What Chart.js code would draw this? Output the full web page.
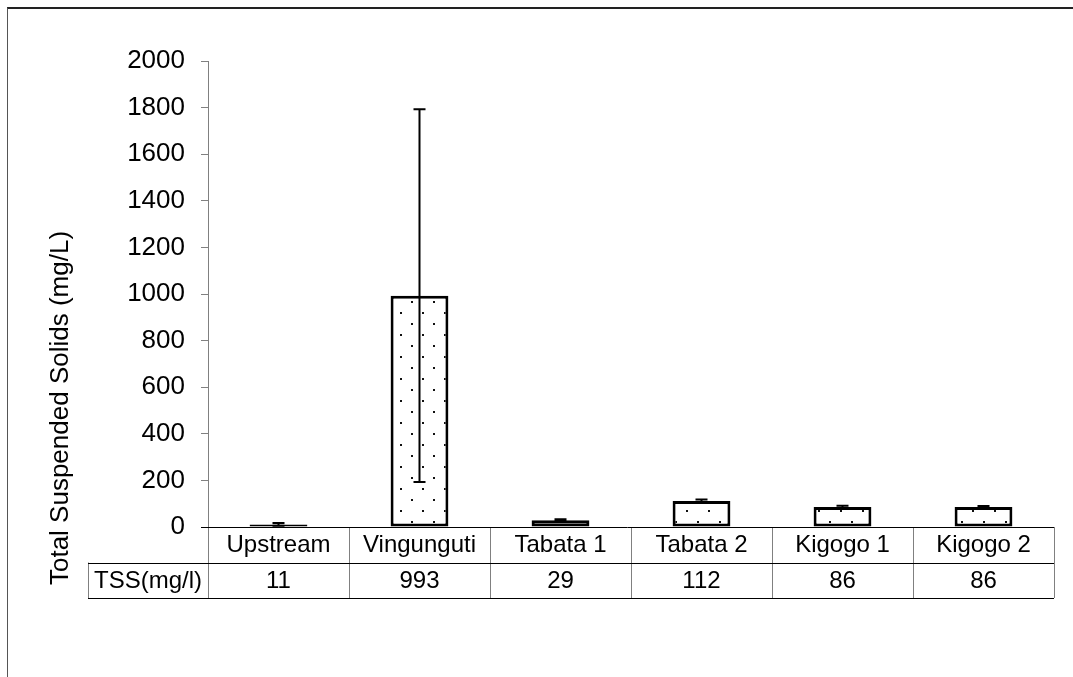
<!DOCTYPE html>
<html>
<head>
<meta charset="utf-8">
<script src="https://cdn.jsdelivr.net/npm/chart.js@4.4.1/dist/chart.umd.min.js"></script>
<style>
    html, body { margin: 0; padding: 0; background: #fff; }
    #wrap { position: relative; width: 1073px; height: 677px; overflow: hidden; }
    #frame { position: absolute; left: 7px; top: 7px; width: 1100px; height: 700px;
             border-top: 2px solid #222; border-left: 1px solid #555; }
    canvas { position: absolute; left: 0; top: 0; }
</style>
</head>
<body>
<div id="wrap">
    <div id="frame"></div>
    <canvas id="chart" width="1073" height="677"></canvas>
</div>
<script>
const sites = ['Upstream', 'Vingunguti', 'Tabata 1', 'Tabata 2', 'Kigogo 1', 'Kigogo 2'];
const tssValues = [11, 993, 29, 112, 86, 86];
const tssErrors = [6, 800, 4, 6, 5, 4];
const rowLabel = 'TSS(mg/l)';
const axisTitle = 'Total Suspended Solids (mg/L)';
const yMin = 0;
const yMax = 2000;
const yStep = 200;

const FONT = 'Arial, "Liberation Sans", sans-serif';

function dotPattern() {
    const tile = document.createElement('canvas');
    tile.width = 22;
    tile.height = 22;
    const c = tile.getContext('2d');
    c.fillStyle = '#fff';
    c.fillRect(0, 0, 22, 22);
    c.fillStyle = '#111';
    c.fillRect(4, 4, 2, 2);
    c.fillRect(15, 15, 2, 2);
    return document.getElementById('chart').getContext('2d').createPattern(tile, 'repeat');
}

// error bars drawn from the y scale
const errorBars = {
    id: 'errorBars',
    afterDatasetsDraw(chart) {
        const { ctx, scales: { y } } = chart;
        const bars = chart.getDatasetMeta(0).data;
        ctx.save();
        ctx.strokeStyle = '#000';
        ctx.lineWidth = 2;
        bars.forEach((bar, i) => {
            const top = y.getPixelForValue(tssValues[i] + tssErrors[i]);
            const bottom = y.getPixelForValue(tssValues[i] - tssErrors[i]);
            ctx.beginPath();
            ctx.moveTo(bar.x, top);
            ctx.lineTo(bar.x, bottom);
            ctx.moveTo(bar.x - 6, top);
            ctx.lineTo(bar.x + 6, top);
            ctx.moveTo(bar.x - 6, bottom);
            ctx.lineTo(bar.x + 6, bottom);
            ctx.stroke();
        });
        ctx.restore();
    }
};

// data table under the plot, laid out on the x scale
const dataTable = {
    id: 'dataTable',
    afterDraw(chart) {
        const { ctx, chartArea, scales: { x, y } } = chart;
        const y0 = y.getPixelForValue(0);
        const rowH = 35.5;
        const y1 = y0 + rowH;
        const y2 = y1 + rowH;
        const labelLeft = 88;
        const step = x.getPixelForValue(1) - x.getPixelForValue(0);
        const left = x.getPixelForValue(0) - step / 2;

        ctx.save();
        ctx.lineWidth = 1;
        ctx.strokeStyle = '#808080';
        ctx.beginPath();
        for (let i = 0; i <= sites.length; i++) {
            const px = Math.round(left + i * step) + 0.5;
            ctx.moveTo(px, y0);
            ctx.lineTo(px, y2);
        }
        ctx.moveTo(labelLeft + 0.5, y1);
        ctx.lineTo(labelLeft + 0.5, y2);
        ctx.stroke();

        ctx.strokeStyle = '#000';
        ctx.beginPath();
        ctx.moveTo(left - 7, Math.round(y0) + 0.5);
        ctx.lineTo(chartArea.right, Math.round(y0) + 0.5);
        ctx.moveTo(labelLeft, Math.round(y1) + 0.5);
        ctx.lineTo(chartArea.right, Math.round(y1) + 0.5);
        ctx.moveTo(labelLeft, Math.round(y2) + 0.5);
        ctx.lineTo(chartArea.right, Math.round(y2) + 0.5);
        ctx.stroke();

        ctx.fillStyle = '#000';
        ctx.font = '24px ' + FONT;
        ctx.textAlign = 'center';
        ctx.textBaseline = 'middle';
        sites.forEach((name, i) => {
            const cx = x.getPixelForValue(i);
            ctx.fillText(name, cx, (y0 + y1) / 2 + 1);
            ctx.fillText(String(tssValues[i]), cx, (y1 + y2) / 2 + 1);
        });
        ctx.fillText(rowLabel, (labelLeft + left) / 2, (y1 + y2) / 2 + 1);

        ctx.font = '26px ' + FONT;
        ctx.translate(61, 408);
        ctx.rotate(-Math.PI / 2);
        ctx.fillText(axisTitle, 0, 0);
        ctx.restore();
    }
};

new Chart(document.getElementById('chart'), {
    type: 'bar',
    data: {
        labels: sites,
        datasets: [{
            data: tssValues,
            backgroundColor: dotPattern(),
            borderColor: '#000',
            borderWidth: 3,
            borderSkipped: false,
            categoryPercentage: 1,
            barPercentage: 0.41
        }]
    },
    options: {
        responsive: false,
        animation: false,
        devicePixelRatio: 1,
        layout: { padding: { left: 0, top: 61, right: 19, bottom: 150 } },
        plugins: { legend: { display: false }, tooltip: { enabled: false } },
        scales: {
            x: { display: false },
            y: {
                min: yMin,
                max: yMax,
                ticks: {
                    stepSize: yStep,
                    color: '#000',
                    padding: 16,
                    font: { family: FONT, size: 26 },
                    callback: (v) => String(v)
                },
                grid: {
                    drawOnChartArea: false,
                    drawTicks: true,
                    tickLength: 7,
                    color: '#808080'
                },
                border: { display: true, color: '#808080', width: 1 },
                afterFit(scale) { scale.width = 208; }
            }
        }
    },
    plugins: [errorBars, dataTable]
});
</script>
</body>
</html>
